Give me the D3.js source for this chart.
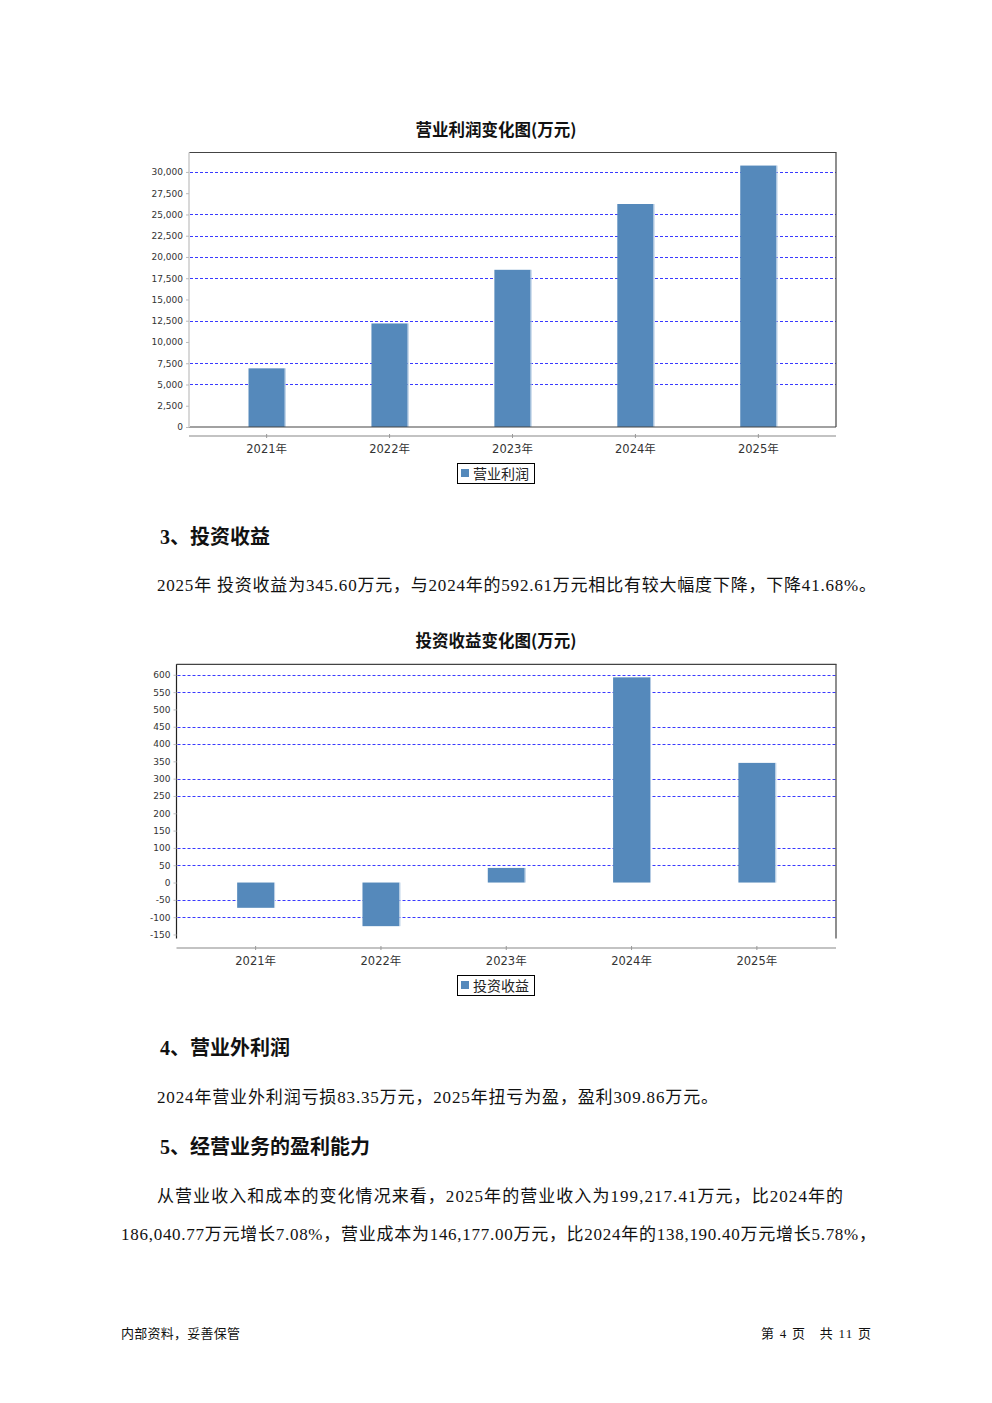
<!DOCTYPE html>
<html>
<head>
<meta charset="utf-8">
<script src="https://cdn.jsdelivr.net/npm/d3@7/dist/d3.min.js"></script>
<style>
  html, body { margin: 0; padding: 0; background: #fff; }
  svg { display: block; }
  text { white-space: pre; }
</style>
</head>
<body>
<svg id="page" width="992" height="1403"></svg>
<script>
// ---------- DATA ----------
const categories = ["2021年", "2022年", "2023年", "2024年", "2025年"];
const opProfit = [6900, 12180, 18490, 26230, 30750];          // 营业利润 (万元)
const opTicks = [0, 2500, 5000, 7500, 10000, 12500, 15000, 17500, 20000, 22500, 25000, 27500, 30000];
const opGrid = [5000, 7500, 12500, 17500, 20000, 22500, 25000, 30000];
const invIncome = [-73, -126, 42.2, 592.61, 345.60];           // 投资收益 (万元)
const invTicks = [-150, -100, -50, 0, 50, 100, 150, 200, 250, 300, 350, 400, 450, 500, 550, 600];
const invGrid = [-100, -50, 50, 100, 250, 300, 400, 450, 550, 600];

const BAR = "#5589bb", BAR_EDGE = "#b4cbe3", GRID = "#3a3aff";
const MIX = "'Liberation Serif','Noto Sans CJK SC',serif";
const SANS = "'DejaVu Sans','Noto Sans CJK SC',sans-serif";
const CJK = "'Noto Sans CJK SC',sans-serif";

const svg = d3.select("#page");
const fmt = d => d3.format(",")(d).replace("\u2212", "-");

function barChart(cfg) {
  const g = svg.append("g");
  const x = d3.scaleBand().domain(categories).range([cfg.left, cfg.right])
    .paddingInner(0.263).paddingOuter(0.263);
  const lo = d3.min(cfg.values), hi = d3.max(cfg.values);
  const lower = lo < 0 ? lo - 0.05 * (hi - lo) : 0;
  const upper = hi + 0.05 * (hi - lower);
  const y = d3.scaleLinear().domain([lower, upper]).range([cfg.bottom, cfg.top]);

  // title
  g.append("text").attr("x", (cfg.titleX)).attr("y", cfg.titleY)
    .attr("text-anchor", "middle").attr("font-family", CJK).attr("font-weight", "bold")
    .attr("font-size", 16.5).attr("fill", "#111").text(cfg.title);

  // gridlines
  g.selectAll("line.grid").data(cfg.grid).join("line")
    .attr("x1", cfg.left + 1).attr("x2", cfg.right)
    .attr("y1", d => Math.round(y(d)) + 0.5).attr("y2", d => Math.round(y(d)) + 0.5)
    .attr("stroke", GRID).attr("stroke-width", 1).attr("stroke-dasharray", "3,2");

  // bars
  const bw = x.bandwidth() * 0.4;
  const bars = g.selectAll("g.bar").data(cfg.values).join("g");
  bars.append("rect")
    .attr("x", (d, i) => x(categories[i]) + (x.bandwidth() - bw) / 2)
    .attr("width", bw)
    .attr("y", d => y(Math.max(0, d)))
    .attr("height", d => Math.abs(y(d) - y(0)))
    .attr("fill", BAR);
  bars.append("line")
    .attr("x1", (d, i) => x(categories[i]) + (x.bandwidth() + bw) / 2 + 0.5)
    .attr("x2", (d, i) => x(categories[i]) + (x.bandwidth() + bw) / 2 + 0.5)
    .attr("y1", d => y(Math.max(0, d))).attr("y2", d => y(Math.min(0, d)))
    .attr("stroke", BAR_EDGE).attr("stroke-width", 1);

  // plot outline (top, right, optional bottom)
  const o = g.append("g").attr("stroke", "#444").attr("stroke-width", 1.2).attr("fill", "none");
  o.append("line").attr("x1", cfg.left).attr("x2", cfg.right + 0.5).attr("y1", cfg.top).attr("y2", cfg.top);
  o.append("line").attr("x1", cfg.right).attr("x2", cfg.right).attr("y1", cfg.top).attr("y2", cfg.bottom);
  if (cfg.outlineBottom)
    o.append("line").attr("x1", cfg.left).attr("x2", cfg.right).attr("y1", cfg.bottom).attr("y2", cfg.bottom);

  // y axis
  const ya = g.append("g").attr("transform", `translate(${cfg.left},0)`)
    .call(d3.axisLeft(y).tickValues(cfg.ticks).tickFormat(fmt).tickSize(3).tickPadding(3));
  ya.select(".domain").attr("stroke", cfg.yAxisColor).attr("stroke-width", cfg.yAxisWidth)
    .attr("d", `M0,${cfg.top}V${cfg.bottom}`);
  ya.selectAll(".tick line").attr("stroke", "#bbb");
  ya.selectAll(".tick text").attr("font-family", SANS).attr("font-size", 9).attr("fill", "#333");

  // x axis
  const xa = g.append("g").attr("transform", `translate(0,${cfg.xAxisY})`)
    .call(d3.axisBottom(x).tickSize(2).tickPadding(7));
  xa.select(".domain").attr("stroke", "#888").attr("stroke-width", 1.2)
    .attr("d", `M${cfg.left},0H${cfg.right}`);
  xa.selectAll(".tick line").attr("stroke", "#999").attr("y1", -2).attr("y2", 2);
  xa.selectAll(".tick text").attr("font-family", SANS).attr("font-size", 11.5).attr("fill", "#333");

  // legend
  const lg = g.append("g").attr("transform", `translate(${cfg.legendX},${cfg.legendY})`);
  lg.append("rect").attr("x", 0.5).attr("y", 0.5).attr("width", 77).attr("height", 20)
    .attr("fill", "#fff").attr("stroke", "#000").attr("stroke-width", 1);
  lg.append("rect").attr("x", 4).attr("y", 6).attr("width", 8).attr("height", 8).attr("fill", BAR);
  lg.append("text").attr("x", 16).attr("y", 15.5).attr("font-family", CJK).attr("font-size", 14)
    .attr("fill", "#222").text(cfg.legend);
}

barChart({
  title: "营业利润变化图(万元)", titleX: 496, titleY: 136,
  values: opProfit, ticks: opTicks, grid: opGrid,
  left: 189, right: 836, top: 152.5, bottom: 427, xAxisY: 436,
  outlineBottom: true, yAxisColor: "#d8d8d8", yAxisWidth: 2,
  legend: "营业利润", legendX: 457, legendY: 463
});

barChart({
  title: "投资收益变化图(万元)", titleX: 496, titleY: 647,
  values: invIncome, ticks: invTicks, grid: invGrid,
  left: 176.5, right: 836, top: 664.3, bottom: 938.6, xAxisY: 948,
  outlineBottom: false, yAxisColor: "#222", yAxisWidth: 1.2,
  legend: "投资收益", legendX: 457, legendY: 975
});

// ---------- TEXT ----------
function txt(str, x, y, size, opts = {}) {
  const t = svg.append("text").attr("x", x).attr("y", y)
    .attr("font-family", opts.family || MIX).attr("font-size", size)
    .attr("fill", "#111").text(str);
  if (opts.bold) t.attr("font-weight", "bold");
  if (opts.anchor) t.attr("text-anchor", opts.anchor);
  if (opts.len) t.attr("textLength", opts.len).attr("lengthAdjust", "spacing");
  return t;
}

txt("3、投资收益", 160, 544, 20, { bold: true });
txt("2025年 投资收益为345.60万元，与2024年的592.61万元相比有较大幅度下降，下降41.68%。", 157, 591, 17, { len: 719 });
txt("4、营业外利润", 160, 1055, 20, { bold: true });
txt("2024年营业外利润亏损83.35万元，2025年扭亏为盈，盈利309.86万元。", 157, 1103, 17, { len: 561 });
txt("5、经营业务的盈利能力", 160, 1154, 20, { bold: true });
txt("从营业收入和成本的变化情况来看，2025年的营业收入为199,217.41万元，比2024年的", 157, 1202, 17, { len: 686 });
txt("186,040.77万元增长7.08%，营业成本为146,177.00万元，比2024年的138,190.40万元增长5.78%，", 121, 1240, 17, { len: 755 });

txt("内部资料，妥善保管", 121, 1338, 13, { len: 119 });
txt("第 4 页   共 11 页", 761, 1338, 13, { len: 110 });
</script>
</body>
</html>
